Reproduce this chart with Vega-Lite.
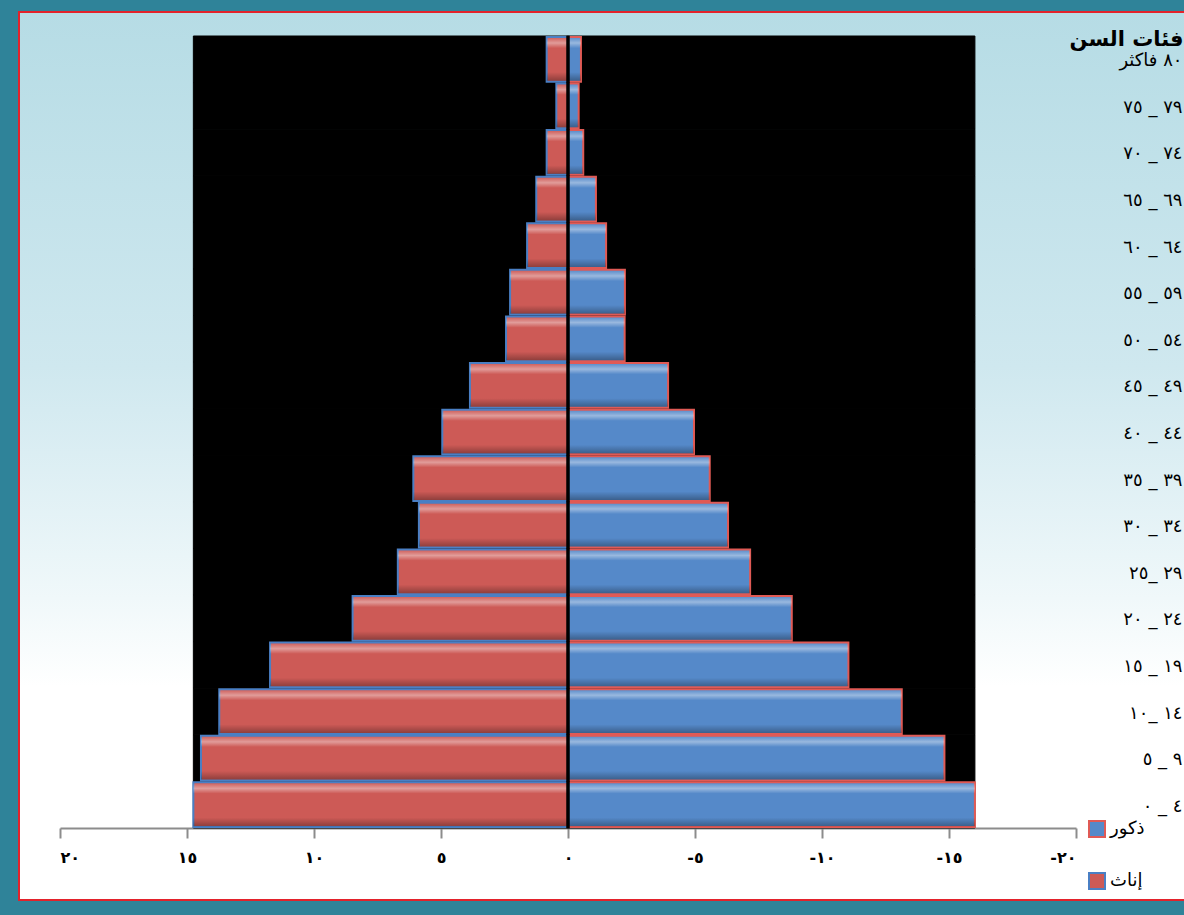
{
  "$schema": "https://vega.github.io/schema/vega-lite/v6.json",
  "width": 1166,
  "height": 888,
  "autosize": {"type": "none"},
  "padding": {"left": 19, "top": 12, "right": 0, "bottom": 15},
  "background": "#2f8399",
  "config": {
    "font": "DejaVu Sans",
    "view": {
      "fill": {"gradient": "linear", "x1": 0, "y1": 0, "x2": 0, "y2": 1,
        "stops": [
          {"offset": 0, "color": "#b6dce5"},
          {"offset": 0.4, "color": "#cfe8ef"},
          {"offset": 0.66, "color": "#f0f8fa"},
          {"offset": 0.76, "color": "#ffffff"},
          {"offset": 1, "color": "#ffffff"}
        ]},
      "stroke": "#e3222b",
      "strokeWidth": 2
    }
  },
  "data": {"values": [
    {"age": "٨٠ فاكثر", "sex": "إناث", "value": 0.84}, {"age": "٨٠ فاكثر", "sex": "ذكور", "value": -0.51},
    {"age": "٧٩ _ ٧٥", "sex": "إناث", "value": 0.46}, {"age": "٧٩ _ ٧٥", "sex": "ذكور", "value": -0.42},
    {"age": "٧٤ _ ٧٠", "sex": "إناث", "value": 0.84}, {"age": "٧٤ _ ٧٠", "sex": "ذكور", "value": -0.6},
    {"age": "٦٩ _ ٦٥", "sex": "إناث", "value": 1.25}, {"age": "٦٩ _ ٦٥", "sex": "ذكور", "value": -1.1},
    {"age": "٦٤ _ ٦٠", "sex": "إناث", "value": 1.61}, {"age": "٦٤ _ ٦٠", "sex": "ذكور", "value": -1.5},
    {"age": "٥٩ _ ٥٥", "sex": "إناث", "value": 2.28}, {"age": "٥٩ _ ٥٥", "sex": "ذكور", "value": -2.24},
    {"age": "٥٤ _ ٥٠", "sex": "إناث", "value": 2.44}, {"age": "٥٤ _ ٥٠", "sex": "ذكور", "value": -2.23},
    {"age": "٤٩ _ ٤٥", "sex": "إناث", "value": 3.86}, {"age": "٤٩ _ ٤٥", "sex": "ذكور", "value": -3.94},
    {"age": "٤٤ _ ٤٠", "sex": "إناث", "value": 4.95}, {"age": "٤٤ _ ٤٠", "sex": "ذكور", "value": -4.96},
    {"age": "٣٩ _ ٣٥", "sex": "إناث", "value": 6.09}, {"age": "٣٩ _ ٣٥", "sex": "ذكور", "value": -5.58},
    {"age": "٣٤ _ ٣٠", "sex": "إناث", "value": 5.87}, {"age": "٣٤ _ ٣٠", "sex": "ذكور", "value": -6.3},
    {"age": "٢٩ _٢٥", "sex": "إناث", "value": 6.7}, {"age": "٢٩ _٢٥", "sex": "ذكور", "value": -7.17},
    {"age": "٢٤ _ ٢٠", "sex": "إناث", "value": 8.48}, {"age": "٢٤ _ ٢٠", "sex": "ذكور", "value": -8.81},
    {"age": "١٩ _ ١٥", "sex": "إناث", "value": 11.73}, {"age": "١٩ _ ١٥", "sex": "ذكور", "value": -11.04},
    {"age": "١٤ _١٠", "sex": "إناث", "value": 13.73}, {"age": "١٤ _١٠", "sex": "ذكور", "value": -13.14},
    {"age": "٩ _ ٥", "sex": "إناث", "value": 14.45}, {"age": "٩ _ ٥", "sex": "ذكور", "value": -14.82},
    {"age": "٤ _ ٠", "sex": "إناث", "value": 14.75}, {"age": "٤ _ ٠", "sex": "ذكور", "value": -16.02}
  ]},
  "encoding": {
    "y": {
      "field": "age", "type": "nominal", "sort": null,
      "scale": {
        "domain": ["٨٠ فاكثر", "٧٩ _ ٧٥", "٧٤ _ ٧٠", "٦٩ _ ٦٥", "٦٤ _ ٦٠", "٥٩ _ ٥٥", "٥٤ _ ٥٠", "٤٩ _ ٤٥", "٤٤ _ ٤٠", "٣٩ _ ٣٥", "٣٤ _ ٣٠", "٢٩ _٢٥", "٢٤ _ ٢٠", "١٩ _ ١٥", "١٤ _١٠", "٩ _ ٥", "٤ _ ٠"],
        "range": [24, 816], "paddingInner": 0, "paddingOuter": 0
      },
      "axis": {
        "orient": "right", "title": "فئات السن", "titleAngle": 0, "titleAlign": "right",
        "titleBaseline": "alphabetic", "titleX": -2, "titleY": 33, "titleFontSize": 21,
        "titleFontWeight": "bold", "titleColor": "black",
        "labelAlign": "right", "labelPadding": -3, "labelFontSize": 18, "labelColor": "black",
        "ticks": false, "domain": false, "labelBaseline": "middle", "labelOffset": 2
      }
    }
  },
  "layer": [
    {
      "transform": [
        {"joinaggregate": [{"op": "max", "field": "value", "as": "mx"}, {"op": "min", "field": "value", "as": "mn"}]},
        {"filter": "datum.sex === 'ذكور'"}
      ],
      "mark": {"type": "bar", "color": "black", "stroke": "black", "strokeWidth": 1, "height": {"band": 1}},
      "encoding": {
        "x": {"field": "mx", "type": "quantitative",
          "scale": {"domain": [20, -20], "range": [41, 1057], "nice": false, "zero": false},
          "axis": {
            "values": [20, 15, 10, 5, 0, -5, -10, -15, -20], "title": null, "grid": false,
            "orient": "bottom", "offset": -72, "domainColor": "#8c8c8c", "domainWidth": 2,
            "tickColor": "#8c8c8c", "tickWidth": 2, "tickSize": 10, "labelFontSize": 16,
            "labelFontWeight": "bold", "labelColor": "black", "labelPadding": 11,
            "labelExpr": "replace(replace(replace(replace(toString(datum.value), regexp('0','g'), '٠'), regexp('1','g'), '١'), regexp('2','g'), '٢'), regexp('5','g'), '٥')"
          }
        },
        "x2": {"field": "mn"}
      }
    },
    {
      "mark": {"type": "bar", "height": {"band": 0.96}, "strokeWidth": 2},
      "encoding": {
        "x": {"field": "value", "type": "quantitative"},
        "fill": {"field": "sex", "type": "nominal",
          "scale": {"domain": ["ذكور", "إناث"], "range": ["#5589c9", "#cd5a56"]},
          "legend": {
            "orient": "none", "legendX": 1069, "legendY": 808, "title": null,
            "symbolType": "square", "symbolSize": 256, "labelFontSize": 18, "labelColor": "black",
            "rowPadding": 28, "labelOffset": 4, "symbolStrokeWidth": 2, "symbolOpacity": 1,
            "encode": {"symbols": {"update": {"stroke": {"signal": "datum.value === 'ذكور' ? '#d9534f' : '#4a7fc4'"}, "strokeWidth": {"value": 2}}}}
          }
        },
        "stroke": {"field": "sex", "type": "nominal",
          "scale": {"domain": ["ذكور", "إناث"], "range": ["#e05a55", "#4a7fc4"]},
          "legend": null
        }
      }
    },
    {
      "mark": {"type": "bar", "height": {"band": 0.92},
        "fill": {"gradient": "linear", "x1": 0, "y1": 0, "x2": 0, "y2": 1,
          "stops": [
            {"offset": 0, "color": "rgba(255,255,255,0.05)"},
            {"offset": 0.12, "color": "rgba(255,255,255,0.4)"},
            {"offset": 0.24, "color": "rgba(255,255,255,0)"},
            {"offset": 0.8, "color": "rgba(0,0,0,0)"},
            {"offset": 1, "color": "rgba(0,0,0,0.3)"}
          ]}},
      "encoding": {
        "x": {"field": "value", "type": "quantitative"}
      }
    },
    {
      "mark": {"type": "tick", "color": "black", "thickness": 3, "size": 47, "opacity": 1},
      "encoding": {
        "x": {"datum": 0, "type": "quantitative"}
      }
    }
  ]
}
